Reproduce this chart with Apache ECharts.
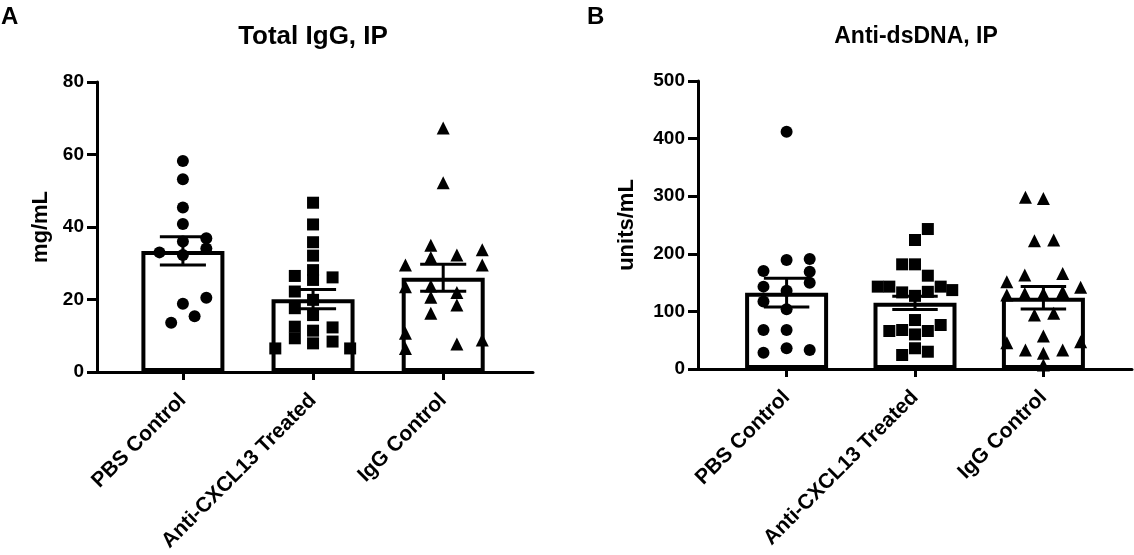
<!DOCTYPE html>
<html>
<head>
<meta charset="utf-8">
<script src="https://cdn.jsdelivr.net/npm/echarts@6/dist/echarts.min.js"></script>
<style>
html,body{margin:0;padding:0;background:#fff;}
#chart{width:1134px;height:555px;}
</style>
</head>
<body>
<div id="chart"></div>
<script>
// ---------- data ----------
const categories = ['PBS Control', 'Anti-CXCL13 Treated', 'IgG Control'];

// Panel A: Total IgG (mg/mL)
const iggMean = [33.4, 20.1, 26.0];
const iggSem = [3.9, 2.65, 3.7];
// points: [offset within category, value]
const iggPBS = [[0, 58.2], [0, 53.2], [0, 45.4], [0, 40.8], [0.18, 36.9], [0, 36.0], [0.18, 34.1],
  [-0.18, 33.0], [0, 32.3], [0.18, 20.5], [0, 18.8], [0.09, 15.4], [-0.09, 13.6]];
const iggAnti = [[0, 46.7], [0, 40.7], [0, 35.8], [0, 32.1], [0, 28.1], [0, 25.4], [0, 19.9], [0, 15.7],
  [0, 11.4], [0, 7.9], [-0.14, 26.5], [-0.14, 22.2], [-0.14, 17.6], [-0.14, 12.5], [-0.14, 9.3],
  [0.15, 26.1], [0.15, 12.3], [0.15, 8.4], [-0.29, 6.5], [0.285, 6.5]];
const iggIgG = [[0, 67.3], [0, 52.2], [-0.095, 35.0], [-0.095, 31.6], [0.105, 32.3], [0.30, 33.7],
  [0.30, 29.5], [-0.29, 29.5], [-0.29, 23.5], [-0.095, 23.7], [-0.095, 20.6], [0.105, 21.9],
  [0.105, 18.5], [-0.095, 16.2], [-0.29, 10.7], [-0.29, 6.5], [0.105, 7.7], [0.30, 8.8]];

// Panel B: Anti-dsDNA (units/mL)
const dnaMean = [132.5, 115, 123.8];
const dnaSem = [25, 11.5, 19.5];
const dnaPBS = [[0, 412], [0, 189.2], [0.18, 191], [0.18, 169], [-0.18, 170], [0.18, 149.8],
  [-0.18, 143], [0, 136], [-0.18, 117], [0, 103.6], [-0.18, 67.7], [0, 67.7], [-0.18, 28.3],
  [0, 35.9], [0.18, 33]];
const dnaAnti = [[0.1, 243], [0, 224], [-0.1, 181.7], [0, 181.7], [0.1, 162], [-0.29, 143], [-0.2, 143],
  [-0.1, 133], [0, 127], [0.1, 134], [0.2, 143], [0.29, 137], [0, 85], [0.2, 76.4], [-0.2, 66],
  [-0.1, 67.7], [0.1, 66], [0, 60], [0, 36], [-0.1, 24.3], [0.1, 30]];
const dnaIgG = [[-0.14, 298], [0, 296], [-0.07, 222.8], [0.08, 224], [-0.285, 151.6], [-0.145, 163],
  [0.15, 166], [0.29, 141.8], [-0.285, 128.5], [-0.145, 131], [0, 131], [0.15, 134], [-0.07, 93.7],
  [0.08, 96.6], [0, 57.3], [-0.285, 45.7], [0.29, 47.4], [-0.14, 33], [0.15, 33], [0, 27.2], [0, 7]];

const iggTicks = [0, 20, 40, 60, 80];
const dnaTicks = [0, 100, 200, 300, 400, 500];

// ---------- helpers ----------
const FONT = 'Liberation Sans, Arial, sans-serif';
const CAP = 0.177;

function place(idx, pts) { return pts.map(p => [idx + p[0], p[1]]); }

function xAxisFor(gridIndex, min, max) {
  return {
    type: 'value', gridIndex: gridIndex, min: min, max: max,
    splitLine: {show: false},
    axisLine: {show: true, onZero: false, lineStyle: {color: '#000', width: 3}},
    axisTick: {show: true, customValues: [0, 1, 2], length: 8, lineStyle: {color: '#000', width: 3}},
    axisLabel: {
      show: true, customValues: [0, 1, 2], rotate: 45, margin: 25,
      formatter: v => categories[Math.round(v)] || '',
      fontFamily: FONT, fontWeight: 'bold', fontSize: 21, color: '#000'
    }
  };
}

function yAxisFor(gridIndex, ticks, name, gap) {
  return {
    type: 'value', gridIndex: gridIndex, min: ticks[0], max: ticks[ticks.length - 1],
    interval: ticks[1] - ticks[0],
    name: name, nameLocation: 'middle', nameGap: gap, nameRotate: 90,
    nameTextStyle: {fontFamily: FONT, fontWeight: 'bold', fontSize: 22, color: '#000'},
    splitLine: {show: false},
    axisLine: {show: true, onZero: false, lineStyle: {color: '#000', width: 3}},
    axisTick: {show: true, length: 10, lineStyle: {color: '#000', width: 3}},
    axisLabel: {margin: 13, fontFamily: FONT, fontWeight: 'bold', fontSize: 19, color: '#000'}
  };
}

function barSeries(ai, means) {
  return {
    type: 'bar', xAxisIndex: ai, yAxisIndex: ai, barWidth: 83, z: 1,
    data: means.map((m, i) => [i, m]),
    itemStyle: {color: '#fff', borderColor: '#000', borderWidth: 4},
    silent: true
  };
}

function scatterSeries(ai, pts, symbol, size) {
  return {
    type: 'scatter', xAxisIndex: ai, yAxisIndex: ai, symbol: symbol, symbolSize: size, z: 2,
    data: pts, itemStyle: {color: '#000', opacity: 1}
  };
}

function errSeries(ai, means, sems) {
  return {
    type: 'custom', xAxisIndex: ai, yAxisIndex: ai, z: 3,
    data: means.map((m, i) => [i, m - sems[i], m + sems[i]]),
    renderItem: function (params, api) {
      const x = api.value(0), lo = api.value(1), hi = api.value(2);
      const a = api.coord([x, lo]), b = api.coord([x, hi]);
      const l1 = api.coord([x - CAP, hi]), r1 = api.coord([x + CAP, hi]);
      const l2 = api.coord([x - CAP, lo]), r2 = api.coord([x + CAP, lo]);
      const st = {stroke: '#000', lineWidth: 3};
      return {
        type: 'group', children: [
          {type: 'line', shape: {x1: a[0], y1: a[1], x2: b[0], y2: b[1]}, style: st},
          {type: 'line', shape: {x1: l1[0], y1: l1[1], x2: r1[0], y2: r1[1]}, style: st},
          {type: 'line', shape: {x1: l2[0], y1: l2[1], x2: r2[0], y2: r2[1]}, style: st}
        ]
      };
    }
  };
}

function txt(text, x, y, size, align) {
  return {
    type: 'text', x: x, y: y, silent: true,
    style: {text: text, fill: '#000', font: 'bold ' + size + 'px ' + FONT,
      textAlign: align, textVerticalAlign: 'middle'}
  };
}

const chart = echarts.init(document.getElementById('chart'), null, {renderer: 'canvas'});
chart.setOption({
  animation: false,
  backgroundColor: '#fff',
  graphic: [
    txt('A', 1, 17, 24, 'left'),
    txt('B', 587, 17, 24, 'left'),
    txt('Total IgG, IP', 313, 37, 26, 'center'),
    txt('Anti-dsDNA, IP', 916, 37, 23, 'center')
  ],
  grid: [
    {left: 97, top: 82, width: 436, height: 290},
    {left: 698, top: 81, width: 434, height: 288}
  ],
  xAxis: [xAxisFor(0, -0.66, 2.69), xAxisFor(1, -0.69, 2.69)],
  yAxis: [yAxisFor(0, iggTicks, 'mg/mL', 45), yAxisFor(1, dnaTicks, 'units/mL', 60)],
  series: [
    barSeries(0, iggMean),
    scatterSeries(0, place(0, iggPBS), 'circle', 12),
    scatterSeries(0, place(1, iggAnti), 'rect', 12),
    scatterSeries(0, place(2, iggIgG), 'triangle', 13),
    errSeries(0, iggMean, iggSem),
    barSeries(1, dnaMean),
    scatterSeries(1, place(0, dnaPBS), 'circle', 12),
    scatterSeries(1, place(1, dnaAnti), 'rect', 12),
    scatterSeries(1, place(2, dnaIgG), 'triangle', 13),
    errSeries(1, dnaMean, dnaSem)
  ]
});
</script>
</body>
</html>
